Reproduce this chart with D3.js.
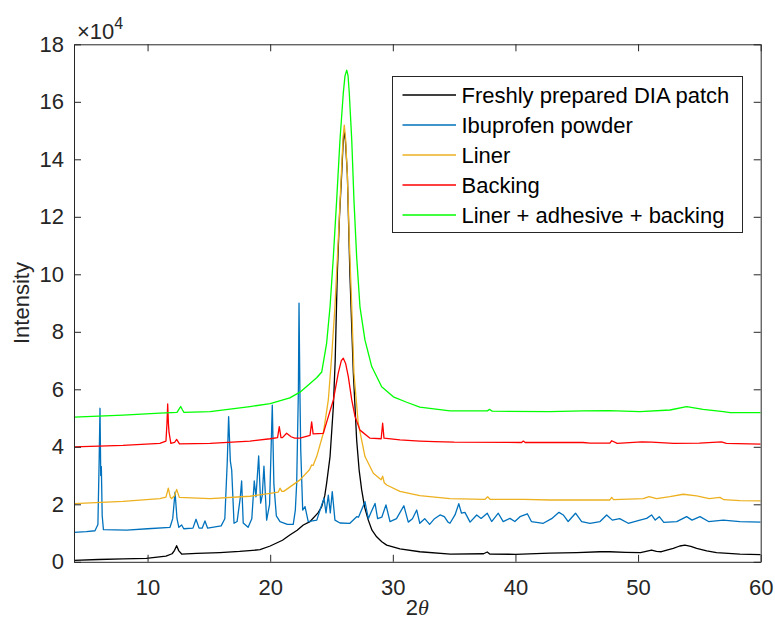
<!DOCTYPE html>
<html>
<head>
<meta charset="utf-8">
<script src="https://cdn.jsdelivr.net/npm/d3@7"></script>
<style>
  body { margin: 0; background: #fff; }
  svg { display: block; font-family: "Liberation Sans", Arial, Helvetica, sans-serif; }
</style>
</head>
<body>
<div id="chart"></div>
<script>
// XRD patterns, intensity in units of 1e4 as [2theta, intensity]
const patch = [[4,0.05],[6,0.08],[8,0.1],[9.9,0.12],[11.5,0.2],[12.0,0.28],[12.2,0.4],[12.37,0.56],[12.55,0.38],[12.78,0.27],[14,0.29],[15.9,0.32],[17.5,0.36],[19.17,0.42],[20.0,0.55],[21.0,0.75],[21.6,0.93],[22.2,1.1],[22.7,1.28],[23.25,1.4],[23.9,1.7],[24.2,1.92],[24.45,2.3],[24.6,2.73],[24.88,3.66],[25.15,5.4],[25.3,7.0],[25.47,10.0],[25.65,12.0],[25.83,13.5],[25.95,14.6],[26.04,15.0],[26.14,14.6],[26.29,13.5],[26.5,10.0],[26.78,6.57],[27.05,4.24],[27.25,3.2],[27.46,2.5],[27.7,1.9],[28.0,1.45],[28.3,1.1],[28.68,0.87],[29.1,0.7],[29.5,0.58],[30.58,0.45],[32.2,0.35],[34.7,0.27],[37.4,0.28],[37.7,0.34],[37.9,0.27],[40,0.26],[42.8,0.3],[45,0.32],[46.9,0.35],[47.7,0.35],[49,0.33],[50.2,0.32],[51.1,0.41],[51.5,0.36],[51.9,0.35],[52.87,0.47],[53.4,0.55],[53.82,0.58],[54.3,0.54],[54.78,0.47],[55.6,0.38],[56.4,0.32],[58.3,0.27],[60,0.25]]

const ibuprofen = [[4,1.02],[5,1.05],[5.71,1.08],[5.95,1.3],[6.05,3.5],[6.12,5.34],[6.18,3.0],[6.23,3.31],[6.3,1.6],[6.4,1.12],[8.3,1.1],[10,1.15],[11.83,1.2],[12.05,1.5],[12.24,2.42],[12.4,1.5],[12.55,1.2],[12.78,1.28],[12.95,1.15],[13.7,1.17],[13.95,1.48],[14.2,1.17],[14.45,1.17],[14.68,1.42],[14.9,1.17],[16.0,1.25],[16.3,1.5],[16.5,3.5],[16.61,5.05],[16.75,3.5],[16.86,3.19],[17.05,1.34],[17.3,1.4],[17.55,2.2],[17.67,2.81],[17.8,1.35],[18.2,1.2],[18.5,1.5],[18.7,2.81],[18.84,2.26],[19.06,3.68],[19.22,2.04],[19.35,2.3],[19.49,3.33],[19.71,1.45],[19.95,2.0],[20.17,5.45],[20.3,2.7],[20.5,1.6],[20.8,1.4],[21.4,1.3],[21.88,1.3],[22.05,1.8],[22.16,2.73],[22.3,6.0],[22.35,9.0],[22.42,6.0],[22.49,3.89],[22.65,1.8],[22.84,1.92],[23.1,1.4],[23.8,1.45],[24.2,1.98],[24.39,2.21],[24.55,1.7],[24.74,2.32],[24.9,1.7],[25.06,2.44],[25.28,1.45],[25.69,1.35],[26.5,1.34],[27.05,1.57],[27.2,1.55],[27.73,2.09],[28.0,1.5],[28.2,1.7],[28.55,2.03],[28.76,1.5],[29.1,1.55],[29.44,1.98],[29.77,1.4],[30.3,1.5],[30.9,1.95],[31.26,1.38],[31.6,1.5],[31.95,1.8],[32.2,1.34],[32.6,1.5],[33.0,1.3],[33.4,1.5],[33.85,1.63],[34.2,1.57],[34.5,1.38],[34.66,1.34],[35.07,1.63],[35.38,2.02],[35.6,1.69],[35.88,1.72],[36.3,1.38],[36.84,1.63],[37.2,1.51],[37.7,1.69],[38.06,1.4],[38.6,1.69],[39.0,1.4],[39.55,1.51],[39.95,1.4],[40.37,1.57],[40.97,1.67],[41.3,1.4],[42.27,1.34],[42.95,1.5],[43.55,1.72],[43.9,1.63],[44.3,1.4],[44.9,1.69],[45.4,1.4],[46.08,1.34],[46.9,1.4],[47.44,1.63],[47.9,1.45],[48.5,1.5],[49.2,1.34],[50.15,1.45],[50.7,1.51],[51.1,1.63],[51.4,1.45],[51.73,1.57],[52.1,1.37],[53.15,1.4],[53.96,1.57],[54.4,1.45],[55.05,1.57],[55.75,1.4],[56.95,1.45],[58.3,1.4],[60,1.38]]

const liner = [[4,2.02],[8,2.1],[11.0,2.2],[11.5,2.25],[11.69,2.56],[11.85,2.25],[11.96,2.2],[12.2,2.3],[12.37,2.52],[12.59,2.24],[15.1,2.2],[18.35,2.28],[20.0,2.38],[20.65,2.42],[20.8,2.56],[20.95,2.45],[21.1,2.45],[22.43,2.85],[23.2,3.2],[23.38,3.37],[23.5,3.35],[23.79,3.66],[24.33,4.47],[24.74,5.63],[25.01,7.13],[25.28,8.87],[25.55,11.19],[25.83,13.74],[25.95,14.8],[26.04,15.19],[26.15,14.7],[26.29,13.5],[26.45,11.19],[26.65,8.87],[26.83,6.56],[27.18,4.82],[27.73,3.66],[28.41,3.08],[29.05,2.85],[29.17,2.98],[29.3,2.75],[29.5,2.67],[30.58,2.45],[32.2,2.3],[34.66,2.2],[37.5,2.17],[37.73,2.26],[37.95,2.17],[40.7,2.17],[42.8,2.15],[46.9,2.15],[47.7,2.15],[47.85,2.24],[48.0,2.16],[50.42,2.2],[50.9,2.27],[51.5,2.2],[52.6,2.27],[53.68,2.35],[54.78,2.29],[55.8,2.2],[56.68,2.24],[57.0,2.16],[58.3,2.13],[60,2.12]]

const backing = [[4,4.0],[8,4.05],[11.0,4.12],[11.5,4.2],[11.58,4.8],[11.64,5.49],[11.7,4.8],[11.75,4.5],[11.9,4.12],[12.2,4.15],[12.37,4.26],[12.6,4.1],[15.1,4.12],[18.35,4.2],[20.0,4.28],[20.6,4.32],[20.74,4.7],[20.88,4.32],[21.0,4.32],[21.34,4.47],[21.7,4.35],[22.0,4.3],[22.43,4.3],[23.25,4.4],[23.38,4.87],[23.5,4.45],[24.33,4.47],[24.74,5.05],[25.15,5.63],[25.55,6.56],[25.8,7.0],[25.96,7.08],[26.15,6.9],[26.37,6.44],[26.65,5.63],[26.92,5.05],[27.32,4.58],[28.14,4.3],[29.05,4.28],[29.17,4.82],[29.28,4.3],[30.58,4.24],[32.2,4.2],[33.4,4.18],[35,4.16],[40.5,4.15],[40.64,4.2],[40.8,4.15],[45.5,4.15],[46.08,4.13],[47.7,4.13],[47.85,4.21],[48.3,4.12],[50.3,4.17],[51.1,4.16],[52.9,4.12],[55,4.13],[56.8,4.17],[57.2,4.12],[60,4.09]]

const laminate = [[4,5.03],[8,5.1],[11.0,5.17],[12.4,5.2],[12.55,5.3],[12.7,5.4],[12.85,5.28],[12.97,5.2],[15.1,5.22],[18.35,5.4],[20.0,5.5],[21.6,5.7],[22.43,5.9],[23.25,6.2],[23.79,6.4],[24.2,6.6],[24.6,7.6],[24.88,8.87],[25.15,10.61],[25.42,12.58],[25.69,14.67],[25.96,16.3],[26.1,16.9],[26.24,17.1],[26.35,16.9],[26.45,16.3],[26.65,14.67],[26.83,12.58],[27.05,10.61],[27.32,8.87],[27.73,7.71],[28.28,6.79],[29.09,6.09],[30.04,5.74],[31.13,5.55],[32.2,5.38],[34.66,5.25],[37.7,5.25],[37.9,5.3],[38.1,5.24],[42.8,5.22],[45.5,5.25],[47.6,5.26],[50.15,5.22],[52.6,5.28],[53.96,5.4],[55.3,5.3],[56.95,5.22],[57.5,5.19],[60,5.19]]

const seriesNames = ['Freshly prepared DIA patch', 'Ibuprofen powder', 'Liner', 'Backing', 'Liner + adhesive + backing']
const seriesColors = ['#000000', '#0072BD', '#EDB120', '#FF0000', '#00FF00']
const xTicks = [10, 20, 30, 40, 50, 60]
const yTicks = [0, 2, 4, 6, 8, 10, 12, 14, 16, 18]

let series = [patch, ibuprofen, liner, backing, laminate]

let size = { width: 775, height: 628 }
let margin = { top: 44.3, right: 14.3, bottom: 66.2, left: 74 }
let width = size.width - margin.left - margin.right
let height = size.height - margin.top - margin.bottom
let axisColor = '#262626'

let x = d3.scaleLinear().domain([4, 60]).range([0, width])
let y = d3.scaleLinear().domain([0, 18]).range([height, 0])

let svg = d3.select('#chart').append('svg')
  .attr('width', size.width)
  .attr('height', size.height)

let g = svg.append('g')
  .attr('transform', `translate(${margin.left}, ${margin.top})`)

g.append('clipPath').attr('id', 'plot-clip')
  .append('rect').attr('width', width).attr('height', height)

// Lines, drawn in legend order so green ends up on top
let line = d3.line().x(d => x(d[0])).y(d => y(d[1]))

g.append('g').attr('clip-path', 'url(#plot-clip)')
  .selectAll('path')
  .data(series)
  .enter()
  .append('path')
  .attr('fill', 'none')
  .attr('stroke', (d, i) => seriesColors[i])
  .attr('stroke-width', 1.3)
  .attr('stroke-linejoin', 'round')
  .attr('d', line)

// Axes box, ticks point inward on all four sides
let styleAxis = function (sel) {
  sel.select('.domain').attr('stroke', axisColor).attr('stroke-width', 1)
  sel.selectAll('.tick line').attr('stroke', axisColor).attr('stroke-width', 1)
  sel.selectAll('.tick text').attr('fill', axisColor).style('font-size', '22px')
  sel.attr('font-family', null).attr('font-size', null)
}

g.append('g')
  .attr('transform', `translate(0, ${height})`)
  .call(d3.axisBottom(x).tickValues(xTicks).tickSize(-7).tickSizeOuter(0).tickPadding(18))
  .call(styleAxis)

g.append('g')
  .call(d3.axisLeft(y).tickValues(yTicks).tickSize(-7).tickSizeOuter(0).tickPadding(10))
  .call(styleAxis)

g.append('g')
  .call(d3.axisTop(x).tickValues(xTicks).tickSize(-7).tickSizeOuter(0).tickFormat(''))
  .call(styleAxis)

g.append('g')
  .attr('transform', `translate(${width}, 0)`)
  .call(d3.axisRight(y).tickValues(yTicks).tickSize(-7).tickSizeOuter(0).tickFormat(''))
  .call(styleAxis)

// Exponent label
let expo = svg.append('text')
  .attr('x', 77)
  .attr('y', 38.5)
  .attr('fill', axisColor)
  .style('font-size', '22px')
expo.append('tspan').text('\u00d710')
expo.append('tspan').attr('dy', -10).style('font-size', '16px').text('4')

// Axis labels
svg.append('text')
  .attr('transform', `translate(29, ${margin.top + height / 2}) rotate(-90)`)
  .attr('text-anchor', 'middle')
  .attr('fill', axisColor)
  .style('font-size', '22px')
  .text('Intensity')

let xl = svg.append('text')
  .attr('x', margin.left + width / 2)
  .attr('y', 615)
  .attr('text-anchor', 'middle')
  .attr('fill', axisColor)
  .style('font-size', '22px')
xl.append('tspan').text('2')
xl.append('tspan').style('font-style', 'italic').style('font-family', '"Liberation Serif", "Times New Roman", serif').text('\u03b8')

// Legend
let legend = svg.append('g').attr('transform', 'translate(392.5, 76.5)')
legend.append('rect')
  .attr('width', 350)
  .attr('height', 156)
  .attr('fill', '#fff')
  .attr('stroke', axisColor)
  .attr('stroke-width', 1)

let rows = legend.selectAll('.row')
  .data(seriesNames)
  .enter()
  .append('g')
  .attr('class', 'row')
  .attr('transform', (d, i) => `translate(0, ${18.5 + i * 30})`)

rows.append('line')
  .attr('x1', 10).attr('x2', 63.5)
  .attr('stroke', (d, i) => seriesColors[i])
  .attr('stroke-width', 1.3)

rows.append('text')
  .attr('x', 69)
  .attr('dy', '0.35em')
  .attr('fill', '#000')
  .style('font-size', '22px')
  .text(d => d)
</script>
</body>
</html>
